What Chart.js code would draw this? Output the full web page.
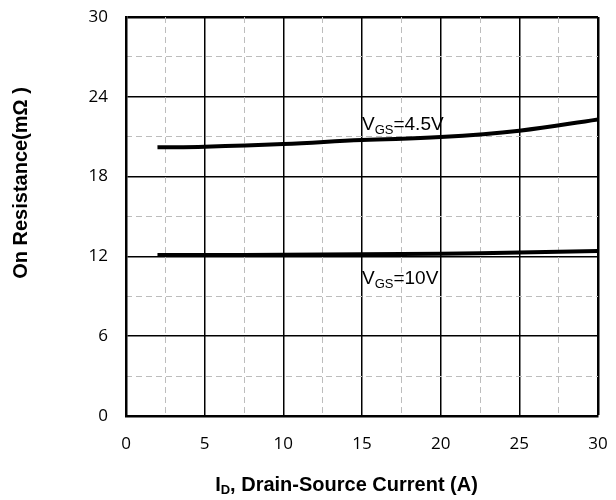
<!DOCTYPE html>
<html lang="en">
<head>
  <meta charset="UTF-8" />
  <title>On Resistance vs Drain Current</title>
  <script src="https://cdn.jsdelivr.net/npm/chart.js"></script>
  <style>
    body { margin: 0; background: #fff; }
    #wrap { width: 616px; height: 500px; }
  </style>
</head>
<body>
<div id="wrap"><canvas id="rdsChart" width="616" height="500"></canvas></div>

<script>
// values
const idCurrent = [2, 5, 10, 15, 20, 25, 30];
const rdsVgs45 = [20.2, 20.25, 20.45, 20.75, 20.97, 21.45, 22.3];
const rdsVgs10 = [12.1, 12.1, 12.12, 12.16, 12.2, 12.3, 12.4];
const xTicks = [0, 5, 10, 15, 20, 25, 30];
const yTicks = [0, 6, 12, 18, 24, 30];
const xMinorTicks = [2.5, 7.5, 12.5, 17.5, 22.5, 27.5];
const yMinorTicks = [3, 9, 15, 21, 27];
const curveLabels = [
  { sub: 'GS', rest: '=4.5V', x: 15, y: 21.5 },
  { sub: 'GS', rest: '=10V', x: 15, y: 9.9 }
];

const pts = (xs, ys) => xs.map((x, i) => ({ x: x, y: ys[i] }));
const ARIAL = '"Liberation Sans", Arial, sans-serif';

const labelPlugin = {
  id: 'labels',
  afterDraw(chart) {
    const c = chart.ctx, xs = chart.scales.x, ys = chart.scales.y;
    c.save();
    c.fillStyle = '#000';
    c.textBaseline = 'alphabetic';
    curveLabels.forEach(l => {
      let px = xs.getPixelForValue(l.x), py = ys.getPixelForValue(l.y);
      c.font = '19px ' + ARIAL;
      c.fillText('V', px, py);
      px += c.measureText('V').width;
      c.font = '13px ' + ARIAL;
      c.fillText(l.sub, px, py + 4);
      px += c.measureText(l.sub).width;
      c.font = '19px ' + ARIAL;
      c.fillText(l.rest, px, py);
    });

    // axis titles
    c.font = 'bold 20px ' + ARIAL;
    c.textBaseline = 'middle';
    c.save();
    c.translate(21, 183);
    c.rotate(-Math.PI / 2);
    c.textAlign = 'center';
    c.fillText('On Resistance(mΩ )', 0, 0);
    c.restore();

    const a = 'I', b = 'D', rest = ', Drain-Source Current (A)';
    c.font = 'bold 20px ' + ARIAL;
    const wa = c.measureText(a).width, wr = c.measureText(rest).width;
    c.font = 'bold 13px ' + ARIAL;
    const wb = c.measureText(b).width;
    let tx = 346.5 - (wa + wb + wr) / 2, ty = 485;
    c.textAlign = 'left';
    c.font = 'bold 20px ' + ARIAL;
    c.fillText(a, tx, ty);
    c.font = 'bold 13px ' + ARIAL;
    c.fillText(b, tx + wa, ty + 5);
    c.font = 'bold 20px ' + ARIAL;
    c.fillText(rest, tx + wa + wb, ty);
    c.restore();
  }
};

const tickFont = { family: '"Open Sans", sans-serif', size: 17 };
const frame = ctx => (ctx.tick && ctx.tick.value === 30 ? 2.5 : 1.5);
function noPad(s) { s.paddingLeft = 0; s.paddingRight = 0; s.paddingTop = 0; s.paddingBottom = 0; }

new Chart(document.getElementById('rdsChart'), {
  type: 'line',
  data: {
    datasets: [
      { label: 'VGS=4.5V', data: pts(idCurrent, rdsVgs45), xAxisID: 'x', yAxisID: 'y',
        borderColor: '#000', borderWidth: 4, pointRadius: 0, tension: 0.4, fill: false },
      { label: 'VGS=10V', data: pts(idCurrent, rdsVgs10), xAxisID: 'x', yAxisID: 'y',
        borderColor: '#000', borderWidth: 4, pointRadius: 0, tension: 0.4, fill: false }
    ]
  },
  options: {
    responsive: false,
    animation: false,
    layout: { padding: { top: 17, right: 18, left: 0, bottom: 0 } },
    plugins: { legend: { display: false }, tooltip: { enabled: false } },
    scales: {
      x: {
        type: 'linear', position: 'bottom', min: 0, max: 30,
        afterBuildTicks(s) { s.ticks = xTicks.map(v => ({ value: v })); },
        ticks: { color: '#000', font: tickFont, padding: 18 },
        grid: { color: '#000', drawTicks: false, lineWidth: frame },
        border: { color: '#000', width: 2.5 },
        afterFit(s) { s.height = 84; noPad(s); }
      },
      y: {
        type: 'linear', position: 'left', min: 0, max: 30,
        afterBuildTicks(s) { s.ticks = yTicks.map(v => ({ value: v })); },
        ticks: { color: '#000', font: tickFont, padding: 18 },
        grid: { color: '#000', drawTicks: false, lineWidth: frame },
        border: { color: '#000', width: 2.5 },
        afterFit(s) { s.width = 126; noPad(s); }
      },
      // minor dashed grid
      x2: {
        type: 'linear', position: 'top', min: 0, max: 30, z: -1,
        afterBuildTicks(s) { s.ticks = xMinorTicks.map(v => ({ value: v })); },
        ticks: { display: false },
        grid: { color: '#bdbdbd', lineWidth: 1, drawTicks: false },
        border: { display: false, dash: [6, 4] },
        afterFit(s) { s.height = 0; noPad(s); }
      },
      y2: {
        type: 'linear', position: 'right', min: 0, max: 30, z: -1,
        afterBuildTicks(s) { s.ticks = yMinorTicks.map(v => ({ value: v })); },
        ticks: { display: false },
        grid: { color: '#bdbdbd', lineWidth: 1, drawTicks: false },
        border: { display: false, dash: [6, 4] },
        afterFit(s) { s.width = 0; noPad(s); }
      }
    }
  },
  plugins: [labelPlugin]
});
</script>
</body>
</html>
